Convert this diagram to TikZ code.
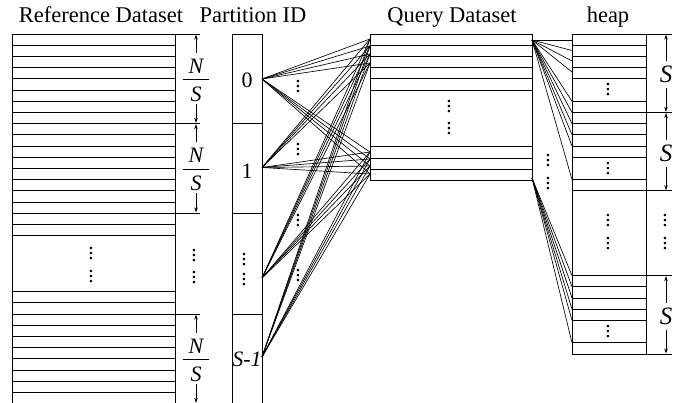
\documentclass[tikz,border=0pt]{standalone}
\usepackage{fontspec}
\setmainfont{Liberation Serif}
\usetikzlibrary{arrows.meta}
% a tall vertical ellipsis built from three full stops
\newcommand{\vdd}{\vbox{\baselineskip=5pt\lineskiplimit=-20pt\hbox{.}\hbox{.}\hbox{.}}}
\begin{document}
\begin{tikzpicture}[x=1pt,y=-1pt,
  frame/.style={line width=0.9pt},
  link/.style={line width=0.65pt},
  dimarrow/.style={line width=0.6pt,-{Stealth[length=5pt,width=3.5pt]}},
  title/.style={font=\fontsize{22.5}{25}\selectfont, anchor=base, inner sep=0pt},
  lab/.style={font=\fontsize{22}{25}\selectfont, inner sep=0pt},
  sym/.style={font=\fontsize{22}{25}\selectfont\itshape, inner sep=0pt},
  bigsym/.style={font=\fontsize{25}{28}\selectfont\itshape, inner sep=0pt},
  dd/.style={font=\fontsize{21.5}{24}\selectfont, inner sep=0pt}
]
\useasboundingbox (0,0) rectangle (691,403);

% column titles
\node[title] (tref)   at (101,23) {Reference Dataset};
\node[title] (tpart)  at (253,23) {Partition ID};
\node[title] (tquery) at (452,23) {Query Dataset};
\node[title] (theap)  at (608,23) {heap};

% ---------- reference dataset ----------
\draw[frame] (12,34) -- (12,403) (175,34) -- (175,403);
\foreach \k in {0,...,18} \draw[frame] (12,34+11.2*\k) -- (175,34+11.2*\k);
\foreach \k in {23,...,32} \draw[frame] (12,34+11.2*\k) -- (175,34+11.2*\k);
\foreach \y in {34,123.6,213.2,314} \draw[frame] (175,\y) -- (200,\y);
\node[dd] (rd1) at (91,254) {\vdd};
\node[dd] (rd2) at (91,276.5) {\vdd};
\node[dd] (rd3) at (194,256) {\vdd};
\node[dd] (rd4) at (194,277.5) {\vdd};

% N/S extents of each partition
\foreach \t/\b [count=\i] in {34/123.6, 123.6/213.2, 314/403.6}{
  \pgfmathsetmacro{\m}{(\t+\b)/2}
  \draw[dimarrow] (196,\m-26) -- (196,\t+0.6);
  \draw[dimarrow] (196,\m+25) -- (196,\b-0.8);
  \node[sym,anchor=base] (fn\i) at (196,\m-5.5) {N};
  \draw[line width=0.6pt] (183,\m+0.5) -- (209,\m+0.5);
  \node[sym,anchor=base] (fs\i) at (196,\m+22.5) {S};
}

% ---------- partition ids ----------
\draw[frame] (232,403) -- (232,34) -- (262,34) -- (262,403);
\foreach \y in {123.6,213.2,314} \draw[frame] (232,\y) -- (262,\y);
\node[lab] (pl0) at (247,80) {0};
\node[lab] (pl1) at (247,171.5) {1};
\node[dd]  (pl2a) at (244,260) {\vdd};
\node[dd]  (pl2b) at (244,280) {\vdd};
\node[sym] (pl3) at (247,359) {S-1};
\coordinate (p0) at (262,79);
\coordinate (p1) at (262,167.5);
\coordinate (p2) at (262,278);
\coordinate (p3) at (262,357);

% ---------- query dataset ----------
\draw[frame] (370,34) -- (370,180.4) (532,34) -- (532,180.4);
\foreach \y in {34,45.2,56.4,67.6,78.8,90,146.8,158,169.2,180.4}
  \draw[frame] (370,\y) -- (532,\y);
\node[dd] (qd1) at (449,107) {\vdd};
\node[dd] (qd2) at (449,129) {\vdd};
\foreach \y [count=\i] in {39,46,54,63} \coordinate (qt\i) at (370,\y);
\foreach \y [count=\i] in {152,159,166,174} \coordinate (qb\i) at (370,\y);

% partition -> query links
\foreach \p in {p0,p1,p2,p3}
  \foreach \q in {qt1,qt2,qt3,qt4,qb1,qb2,qb3,qb4}
    \draw[link] (\p) -- (\q);
\node[dd] (ld1) at (298,86.5) {\vdd};
\node[dd] (ld2) at (298,150) {\vdd};
\node[dd] (ld3) at (298,220.5) {\vdd};
\node[dd] (ld4) at (298,275.5) {\vdd};

% ---------- heap ----------
\draw[frame] (572,34) -- (572,354) (646,34) -- (646,354);
\foreach \y in {34,45.2,56.4,67.6,78.8,101.2,112.4,
                123.6,134.8,146,157.2,179.6,190.8,
                275.6,286.8,298,309.2,320.4,342.8,354}
  \draw[frame] (572,\y) -- (646,\y);
\foreach \y in {34,112.4,190.8,275.6,354} \draw[frame] (646,\y) -- (672,\y);
\node[dd] (hd1) at (608,90) {\vdd};
\node[dd] (hd2) at (608,168.5) {\vdd};
\node[dd] (hd3) at (608,221) {\vdd};
\node[dd] (hd4) at (608,243.5) {\vdd};
\node[dd] (hd5) at (608,331.5) {\vdd};
\node[dd] (hd6) at (665,221) {\vdd};
\node[dd] (hd7) at (665,243.5) {\vdd};

% S extents of each heap block
\foreach \t/\b [count=\i] in {34/112.4, 112.4/190.8, 275.6/354}{
  \pgfmathsetmacro{\m}{(\t+\b)/2}
  \draw[dimarrow] (666,\m-12) -- (666,\t+0.6);
  \draw[dimarrow] (666,\m+15) -- (666,\b-0.6);
  \node[bigsym] (hs\i) at (666,\m+1.5) {S};
}

% query -> heap links
\coordinate (qa) at (532,40);
\coordinate (qz) at (532,178);
\foreach \y [count=\i] in {40,50.5,61,72,101.2,112.4,123.6,134.8,146,179.6}
  \coordinate (ha\i) at (572,\y);
\foreach \y [count=\i] in {275.6,286.8,298,309.2,320.4,342.8}
  \coordinate (hz\i) at (572,\y);
\foreach \i in {1,...,10} \draw[link] (qa) -- (ha\i);
\foreach \i in {1,...,6} \draw[link] (qz) -- (hz\i);
\node[dd] (md1) at (548,161) {\vdd};
\node[dd] (md2) at (548,183.5) {\vdd};
\end{tikzpicture}
\end{document}
